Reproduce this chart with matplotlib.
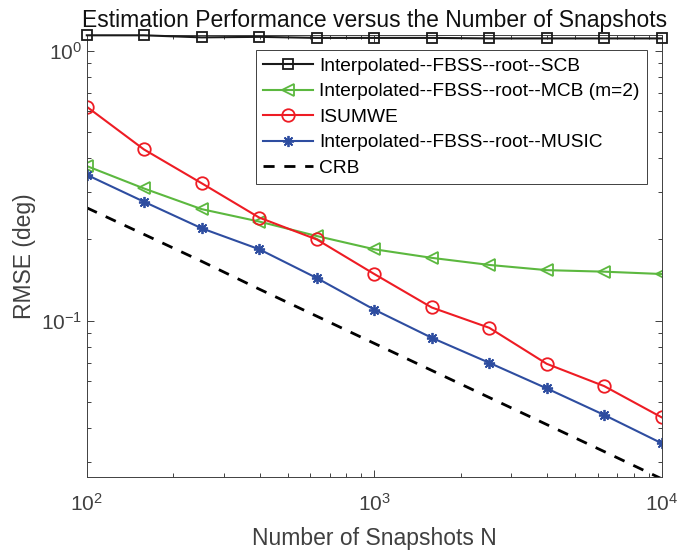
import numpy as np
import matplotlib
matplotlib.use('Agg')
import matplotlib.pyplot as plt

plt.rcParams['font.family'] = ['Liberation Sans', 'DejaVu Sans']
plt.rcParams['mathtext.fontset'] = 'custom'
plt.rcParams['mathtext.rm'] = 'Liberation Sans'
plt.rcParams['mathtext.it'] = 'Liberation Sans:italic'
plt.rcParams['mathtext.default'] = 'regular'

# numero de snapshots
snapshots = [100, 158, 251, 398, 631, 1000, 1585, 2512, 3981, 6310, 10000]

# RMSE de cada metodo
rmse_scb = [1.14, 1.14, 1.12, 1.125, 1.115, 1.115, 1.115, 1.11, 1.11, 1.11, 1.11]
rmse_mcb = [0.374, 0.309, 0.259, 0.233, 0.206, 0.184, 0.171, 0.161, 0.154, 0.152, 0.149]
rmse_isumwe = [0.62, 0.431, 0.323, 0.241, 0.200, 0.149, 0.112, 0.0942, 0.0693, 0.0573, 0.0439]
rmse_music = [0.347, 0.276, 0.220, 0.184, 0.144, 0.110, 0.0865, 0.0699, 0.0562, 0.0448, 0.0352]
crb = [0.262, 0.209, 0.166, 0.131, 0.104, 0.0825, 0.0655, 0.052, 0.0413, 0.0328, 0.026]

nomes = ['Interpolated--FBSS--root--SCB', 'Interpolated--FBSS--root--MCB (m=2)',
         'ISUMWE', 'Interpolated--FBSS--root--MUSIC', 'CRB']

cinza = '#404040'

fig = plt.figure(figsize=(6.78, 5.51), dpi=100)
ax = fig.add_axes([0.128, 0.134, 0.848, 0.8025])

ax.plot(snapshots, rmse_scb, color='#1a1a1a', marker='s', ms=7, mfc='none', mew=1.3,
        lw=1.5, label=nomes[0], clip_on=False, zorder=5)
ax.plot(snapshots, rmse_mcb, color='#5cb83f', marker='<', ms=9, mfc='none', mew=1.3,
        lw=1.5, label=nomes[1])
ax.plot(snapshots, rmse_isumwe, color='#ee1c24', marker='o', ms=9, mfc='none', mew=1.3,
        lw=1.5, label=nomes[2])
ax.plot(snapshots, rmse_music, color='#2e4da0', marker=(8, 2, 0), ms=8, mew=1.3,
        lw=1.5, label=nomes[3])
ax.plot(snapshots, crb, color='black', ls=(0, (4, 3.5)), lw=2, label=nomes[4])

ax.set_xscale('log')
ax.set_yscale('log')
ax.set_xlim(100, 10000)
ax.set_ylim(0.02637, 1.143)

ax.tick_params(which='both', direction='in', top=True, right=True, colors=cinza,
               labelsize=15)
ax.tick_params(which='major', length=5, width=0.7)
ax.tick_params(which='minor', length=3, width=0.7)
ax.tick_params(axis='x', pad=11)
for s in ax.spines.values():
    s.set_color(cinza)
    s.set_linewidth(0.7)

ax.set_title('Estimation Performance versus the Number of Snapshots', fontsize=16.5,
             color='#111111', pad=6)
ax.set_xlabel('Number of Snapshots N', fontsize=16.5, color=cinza, labelpad=9)
ax.set_ylabel('RMSE (deg)', fontsize=16.5, color=cinza, labelpad=3)

leg = ax.legend(loc='upper right', bbox_to_anchor=(0.954, 0.909),
                bbox_transform=fig.transFigure, borderaxespad=0, fontsize=13.8,
                fancybox=False, edgecolor=cinza, framealpha=1, handlelength=2.6,
                handletextpad=0.3, labelspacing=0.42, borderpad=0.38)
leg.get_frame().set_linewidth(0.7)

fig.savefig('out.png', dpi=100)
